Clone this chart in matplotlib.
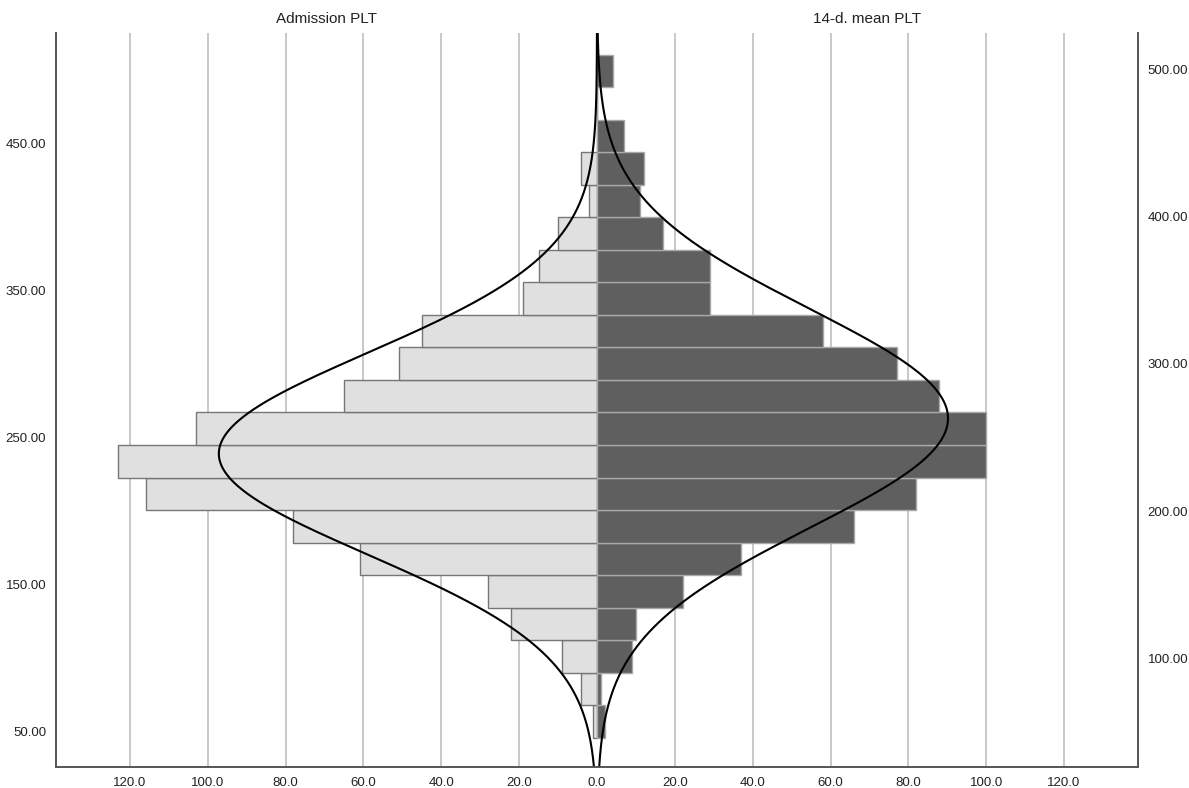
import numpy as np
import matplotlib
matplotlib.use("Agg")
import matplotlib.pyplot as plt

plt.rcParams['font.family'] = ['Liberation Sans', 'DejaVu Sans']

# histogram bins (PLT), lowest bin first
bin_start = 46.0
bin_width = 22.1
admission_counts = [1, 4, 9, 22, 28, 61, 78, 116, 123, 103, 65, 51, 45, 19, 15, 10, 2, 4, 0, 0, 0]
mean14_counts = [2, 1, 9, 10, 22, 37, 66, 82, 100, 100, 88, 77, 58, 29, 29, 17, 11, 12, 7, 0, 4]

# normal curve parameters
adm_mean, adm_sd = 239.0, 68.6
m14_mean, m14_sd = 263.0, 74.4

left_title = "Admission PLT"
right_title = "14-d. mean PLT"
x_ticks = [-120, -100, -80, -60, -40, -20, 0, 20, 40, 60, 80, 100, 120]
left_yticks = [50, 150, 250, 350, 450]
right_yticks = [100, 200, 300, 400, 500]

fig = plt.figure(figsize=(11.89, 7.88), dpi=100)
ax = fig.add_axes([0.0471, 0.0267, 0.9100, 0.9314])

n = len(admission_counts)
centers = bin_start + bin_width * (np.arange(n) + 0.5)
ax.barh(centers, -np.array(admission_counts), height=bin_width, color='#e0e0e0',
        edgecolor='#767676', linewidth=1.0, zorder=2)
ax.barh(centers, mean14_counts, height=bin_width, color='#5f5f5f',
        edgecolor='#a8a8a8', linewidth=1.0, zorder=2)

ylo, yhi = 26.0, 525.0
yy = np.linspace(ylo, yhi, 600)
def curve(mu, sd, total):
    return total * bin_width / (sd * np.sqrt(2 * np.pi)) * np.exp(-(yy - mu) ** 2 / (2 * sd ** 2))
ax.plot(-curve(adm_mean, adm_sd, sum(admission_counts)), yy, color='black', lw=1.5, zorder=3)
ax.plot(curve(m14_mean, m14_sd, sum(mean14_counts)), yy, color='black', lw=1.5, zorder=3)

for gx in x_ticks:
    if gx != 0:
        ax.axvline(gx, color='#c4c4c4', lw=1.3, zorder=1)

ax.set_xlim(-139, 139)
ax.set_ylim(ylo, yhi)
ax.set_xticks(x_ticks)
ax.set_xticklabels([f"{abs(v):.1f}" for v in x_ticks])
ax.set_yticks(left_yticks)
ax.set_yticklabels([f"{v:.2f}" for v in left_yticks])
ax.tick_params(length=0, labelsize=9.5, colors='#222222', pad=7)

ax2 = ax.twinx()
ax2.set_ylim(ylo, yhi)
ax2.set_yticks(right_yticks)
ax2.set_yticklabels([f"{v:.2f}" for v in right_yticks])
ax2.tick_params(length=0, labelsize=9.5, colors='#222222', pad=7)

for a in (ax, ax2):
    a.spines['top'].set_visible(False)
    for s in ('left', 'right', 'bottom'):
        a.spines[s].set_color('#555555')
        a.spines[s].set_linewidth(1.2)

ax.text(-69.5, yhi + 5, left_title, ha='center', va='bottom', fontsize=11, color='#222222')
ax.text(69.5, yhi + 5, right_title, ha='center', va='bottom', fontsize=11, color='#222222')

fig.savefig("out.png", dpi=100)
